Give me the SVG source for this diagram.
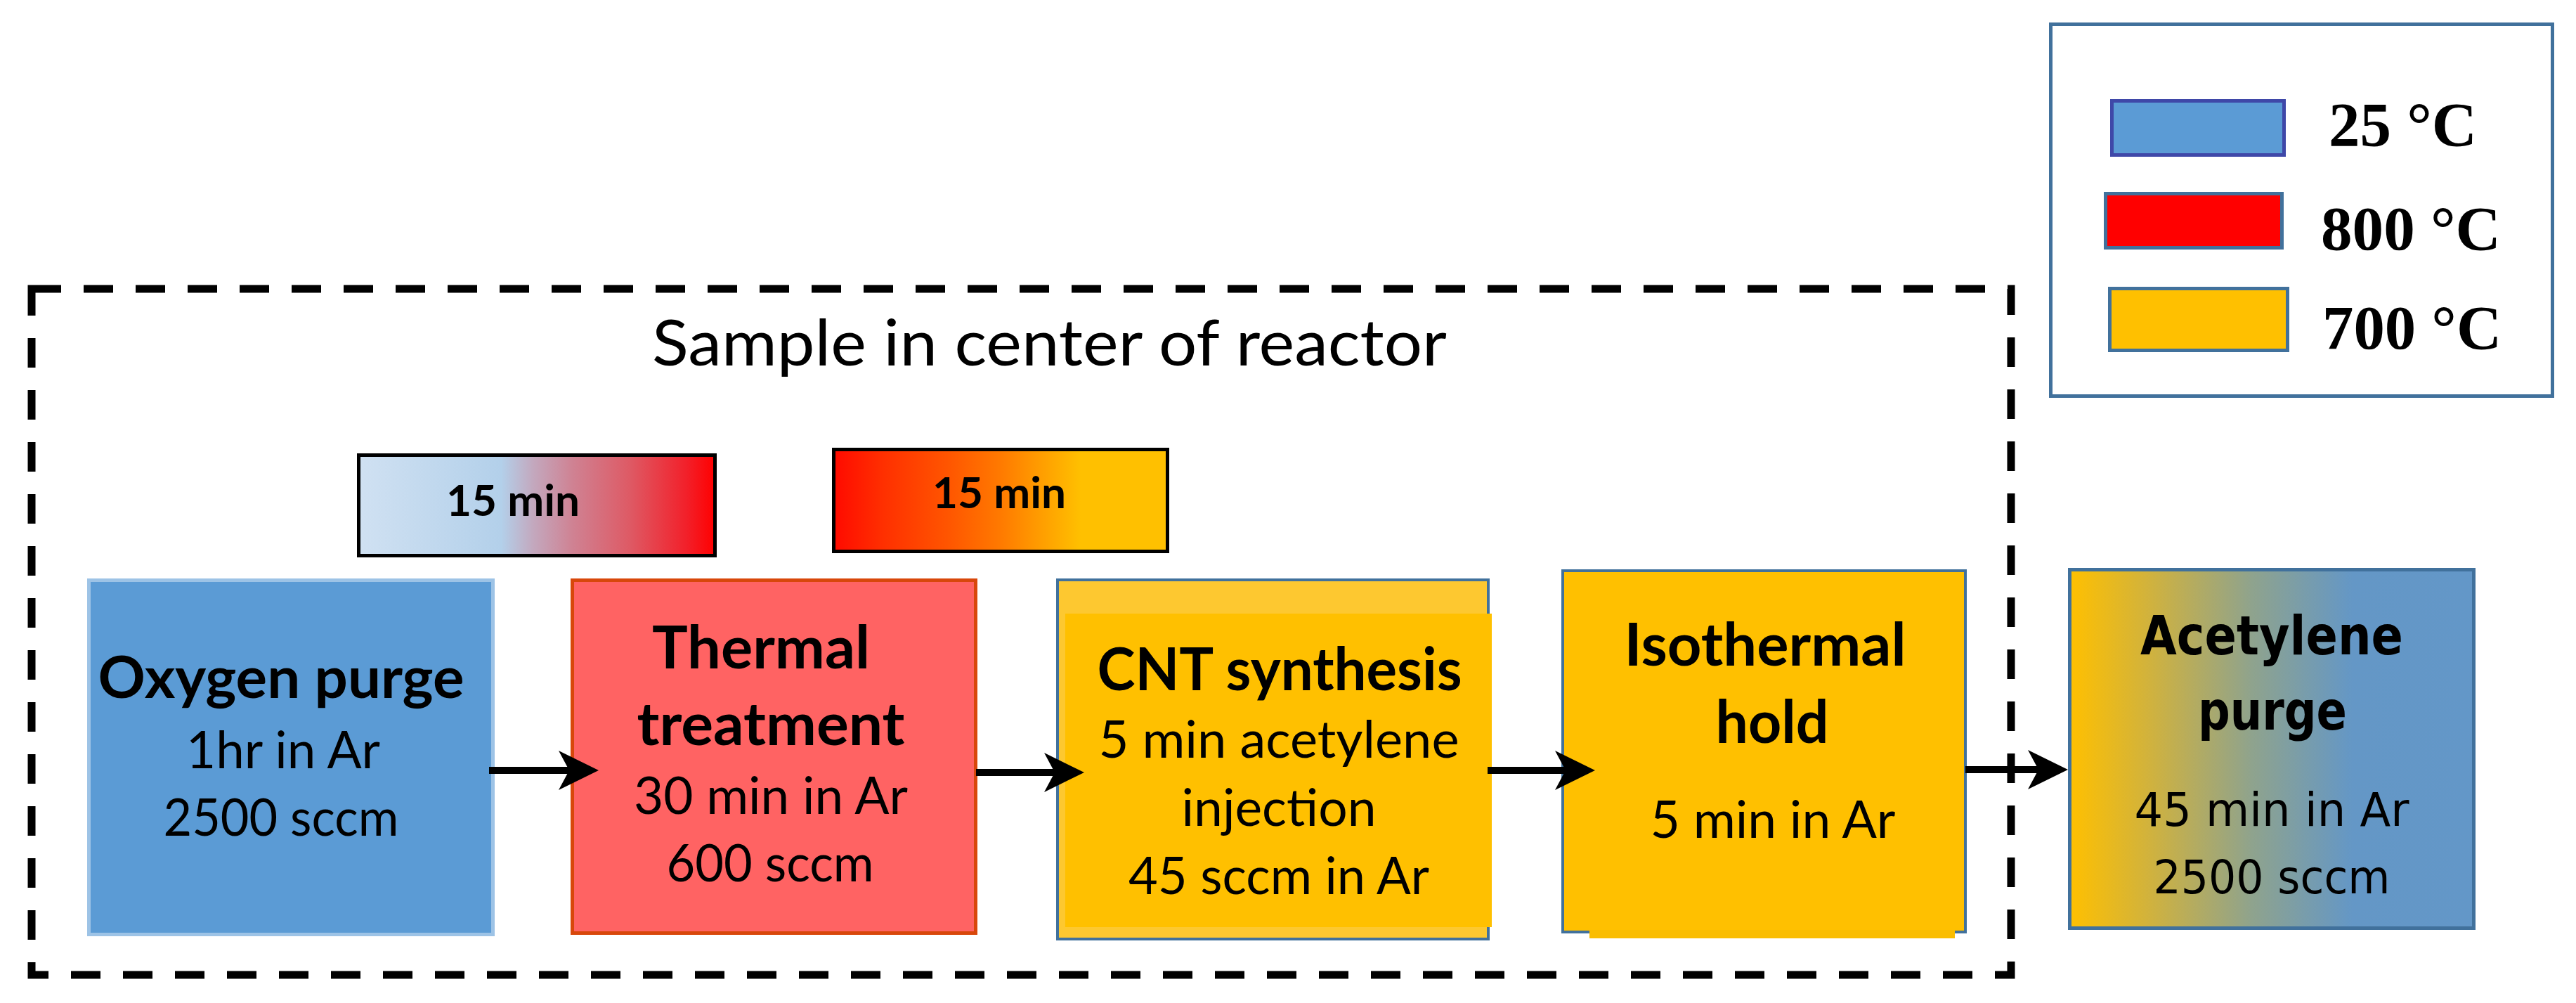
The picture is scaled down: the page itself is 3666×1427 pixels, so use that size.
<svg xmlns="http://www.w3.org/2000/svg" xmlns:xlink="http://www.w3.org/1999/xlink" width="3666" height="1427" viewBox="0 0 3666 1427">
<style>
.cal{font-family:"Lato","Open Sans",sans-serif;fill:#000}
.b{font-weight:bold}
.ver{font-family:"DejaVu Sans","Verdana",sans-serif;fill:#000}
.tnr{font-family:"Liberation Serif","Times New Roman",serif;font-weight:bold;font-size:88px;fill:#000}
.shaft{stroke:#000;stroke-width:10;fill:none}
</style>
<defs>
<linearGradient id="g15a" x1="0" y1="0" x2="1" y2="0">
<stop offset="0" stop-color="#D0E1F2"/>
<stop offset="0.4" stop-color="#B3D0EA"/>
<stop offset="0.49" stop-color="#C3A8BE"/>
<stop offset="0.6" stop-color="#CF8293"/>
<stop offset="0.76" stop-color="#DE5A65"/>
<stop offset="0.92" stop-color="#F2202A"/>
<stop offset="1" stop-color="#FF0000"/>
</linearGradient>
<linearGradient id="g15b" x1="0" y1="0" x2="1" y2="0">
<stop offset="0" stop-color="#FF0A00"/>
<stop offset="0.15" stop-color="#FF3000"/>
<stop offset="0.35" stop-color="#FF5700"/>
<stop offset="0.5" stop-color="#FF7A00"/>
<stop offset="0.63" stop-color="#FFA000"/>
<stop offset="0.74" stop-color="#FFC000"/>
<stop offset="1" stop-color="#FFC000"/>
</linearGradient>
<linearGradient id="gac" x1="0" y1="0" x2="1" y2="0">
<stop offset="0" stop-color="#FFC000"/>
<stop offset="0.2" stop-color="#D0B23E"/>
<stop offset="0.45" stop-color="#8FA38D"/>
<stop offset="0.7" stop-color="#6497C6"/>
<stop offset="1" stop-color="#6397C8"/>
</linearGradient>
<path id="ah" d="M0,0 L-57,-28 L-42,0 L-57,28 Z" fill="#000"/>
</defs>

<g id="reactor-frame">
<rect x="45" y="411" width="2817" height="976" fill="none" stroke="#000" stroke-width="11" stroke-dasharray="42 32"/>
<text class="cal" x="928" y="520" font-size="92" textLength="1131" lengthAdjust="spacingAndGlyphs">Sample in center of reactor</text>
</g>

<g id="legend">
<rect x="2918.5" y="34.5" width="714" height="529" fill="#FFFFFF" stroke="#41719C" stroke-width="5"/>
<rect x="3005.5" y="143.5" width="245" height="77" fill="#5B9BD5" stroke="#3F48A8" stroke-width="5"/>
<rect x="2996.5" y="275.5" width="251" height="77" fill="#FF0000" stroke="#41719C" stroke-width="5"/>
<rect x="3002.5" y="410.5" width="253" height="88" fill="#FFC000" stroke="#41719C" stroke-width="5"/>
<text class="tnr" x="3314" y="207" textLength="211" lengthAdjust="spacingAndGlyphs">25 °C</text>
<text class="tnr" x="3303" y="355" textLength="256" lengthAdjust="spacingAndGlyphs">800 °C</text>
<text class="tnr" x="3305" y="496" textLength="255" lengthAdjust="spacingAndGlyphs">700 °C</text>
</g>

<g id="ramp1">
<rect x="510.5" y="647.5" width="507" height="143" fill="url(#g15a)" stroke="#000" stroke-width="5"/>
<text class="cal b" x="730" y="734" font-size="62" text-anchor="middle" textLength="190" lengthAdjust="spacingAndGlyphs">15 min</text>
</g>

<g id="ramp2">
<rect x="1186.5" y="639.5" width="475" height="145" fill="url(#g15b)" stroke="#000" stroke-width="5"/>
<text class="cal b" x="1422" y="723" font-size="62" text-anchor="middle" textLength="190" lengthAdjust="spacingAndGlyphs">15 min</text>
</g>

<g id="oxygen-purge">
<rect x="126.5" y="825.5" width="575" height="504" fill="#5B9BD5" stroke="#9DC3E6" stroke-width="5"/>
<text class="cal b" x="400" y="993" font-size="82" text-anchor="middle" textLength="521" lengthAdjust="spacingAndGlyphs">Oxygen purge</text>
<text class="cal" x="403" y="1093" font-size="74" text-anchor="middle" textLength="276" lengthAdjust="spacingAndGlyphs">1hr in Ar</text>
<text class="cal" x="400" y="1189" font-size="74" text-anchor="middle" textLength="335" lengthAdjust="spacingAndGlyphs">2500 sccm</text>
</g>

<g id="thermal-treatment">
<rect x="814.5" y="825.5" width="574" height="502" fill="#FF6363" stroke="#D8470B" stroke-width="5"/>
<text class="cal b" x="1083" y="951" font-size="84" text-anchor="middle" textLength="310" lengthAdjust="spacingAndGlyphs">Thermal</text>
<text class="cal b" x="1097" y="1060" font-size="84" text-anchor="middle" textLength="381" lengthAdjust="spacingAndGlyphs">treatment</text>
<text class="cal" x="1097" y="1158" font-size="74" text-anchor="middle" textLength="390" lengthAdjust="spacingAndGlyphs">30 min in Ar</text>
<text class="cal" x="1096" y="1254" font-size="74" text-anchor="middle" textLength="295" lengthAdjust="spacingAndGlyphs">600 sccm</text>
</g>

<g id="cnt-synthesis">
<rect x="1505" y="825" width="613" height="511" fill="#FDC830" stroke="#41719C" stroke-width="4"/>
<rect x="1516" y="873" width="607" height="446" fill="#FFC000"/>
<text class="cal b" x="1821" y="982" font-size="84" text-anchor="middle" textLength="519" lengthAdjust="spacingAndGlyphs">CNT synthesis</text>
<text class="cal" x="1820" y="1078" font-size="74" text-anchor="middle" textLength="513" lengthAdjust="spacingAndGlyphs">5 min acetylene</text>
<text class="cal" x="1820" y="1175" font-size="74" text-anchor="middle" textLength="277" lengthAdjust="spacingAndGlyphs">injection</text>
<text class="cal" x="1820" y="1272" font-size="74" text-anchor="middle" textLength="428" lengthAdjust="spacingAndGlyphs">45 sccm in Ar</text>
</g>

<g id="isothermal-hold">
<rect x="2224" y="812" width="573" height="514" fill="#FFC000" stroke="#41719C" stroke-width="4"/>
<rect x="2262" y="1323" width="520" height="12" fill="#FABD00"/>
<text class="cal b" x="2512" y="947" font-size="84" text-anchor="middle" textLength="401" lengthAdjust="spacingAndGlyphs">Isothermal</text>
<text class="cal b" x="2522" y="1057" font-size="84" text-anchor="middle" textLength="161" lengthAdjust="spacingAndGlyphs">hold</text>
<text class="cal" x="2523" y="1192" font-size="74" text-anchor="middle" textLength="349" lengthAdjust="spacingAndGlyphs">5 min in Ar</text>
</g>

<g id="acetylene-purge">
<rect x="2945.5" y="810.5" width="575" height="510" fill="url(#gac)" stroke="#41719C" stroke-width="5"/>
<text class="ver" x="3233" y="931" font-size="76" font-weight="bold" text-anchor="middle" textLength="374" lengthAdjust="spacingAndGlyphs">Acetylene</text>
<text class="ver" x="3234" y="1038" font-size="76" font-weight="bold" text-anchor="middle" textLength="212" lengthAdjust="spacingAndGlyphs">purge</text>
<text class="ver" x="3233" y="1175" font-size="66" text-anchor="middle" textLength="391" lengthAdjust="spacingAndGlyphs">45 min in Ar</text>
<text class="ver" x="3233" y="1271" font-size="66" text-anchor="middle" textLength="337" lengthAdjust="spacingAndGlyphs">2500 sccm</text>
</g>

<g id="connectors">
<line class="shaft" x1="696" y1="1096" x2="812" y2="1096"/>
<use xlink:href="#ah" href="#ah" x="852" y="1096"/>
<line class="shaft" x1="1389" y1="1099" x2="1503" y2="1099"/>
<use xlink:href="#ah" href="#ah" x="1543" y="1099"/>
<line class="shaft" x1="2117" y1="1096" x2="2230" y2="1096"/>
<use xlink:href="#ah" href="#ah" x="2270" y="1096"/>
<line class="shaft" x1="2797" y1="1095" x2="2903" y2="1095"/>
<use xlink:href="#ah" href="#ah" x="2943" y="1095"/>
</g>
</svg>
